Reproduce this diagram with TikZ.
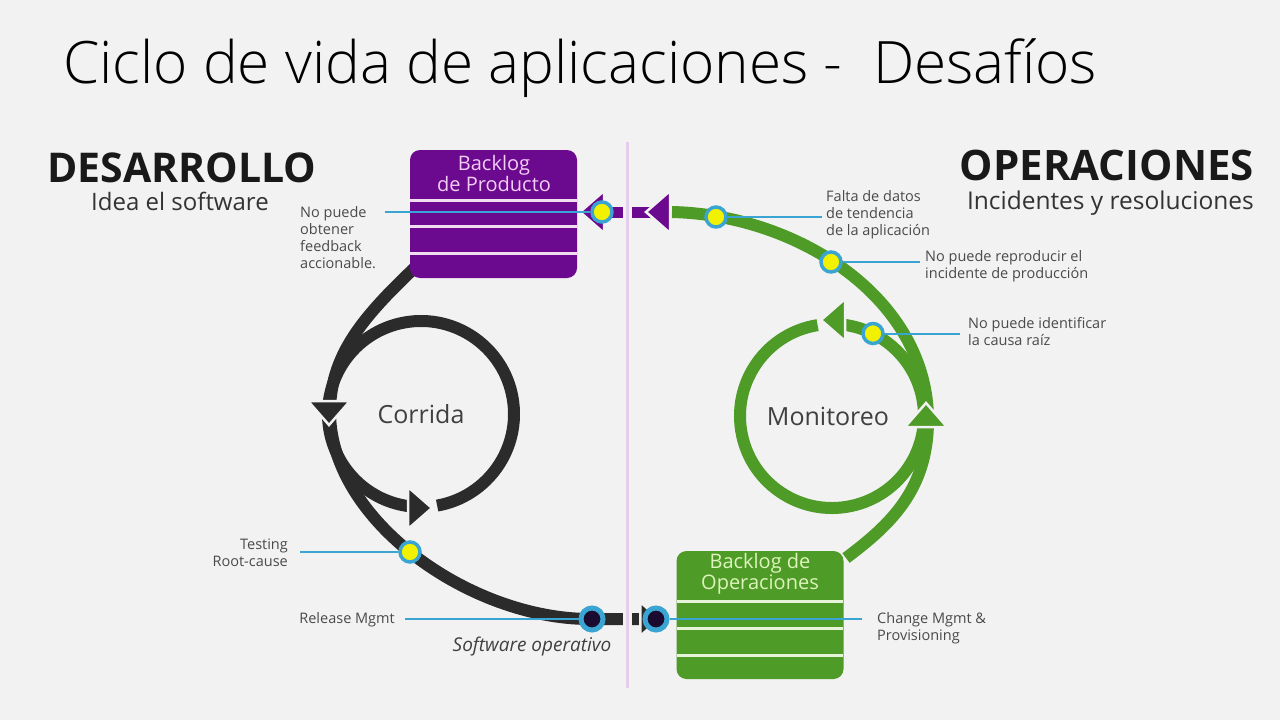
\documentclass[tikz,border=0pt]{standalone}
\usepackage{fontspec}
\setmainfont{Open Sans}
\newfontfamily\titlefont{Open Sans Light}
\usetikzlibrary{calc}
\definecolor{bgc}{HTML}{F2F2F2}
\definecolor{blk}{HTML}{2B2B2B}
\definecolor{grn}{HTML}{4E9B27}
\definecolor{pur}{HTML}{6B0A8E}
\definecolor{lav}{HTML}{E3CDEB}
\definecolor{blu}{HTML}{3AA4D2}
\definecolor{yel}{HTML}{F2F200}
\definecolor{darkc}{HTML}{1C0B30}
\definecolor{txtc}{HTML}{4A4A4A}
\definecolor{pursep}{HTML}{F0DDF2}
\definecolor{grnsep}{HTML}{E8F4DA}
\definecolor{purtxt}{HTML}{F2CDF6}
\definecolor{grntxt}{HTML}{DDF4BC}
\tikzset{
  flow/.style={line width=12pt},
  arrowtri/.pic={\path[pic actions, draw=bgc, line width=2.5pt] (-12,-21) -- (12,0) -- (-12,21) -- cycle;},
  ycirc/.style={circle, fill=yel, draw=blu, line width=3.5pt, minimum size=20pt, inner sep=0pt},
  dcirc/.style={circle, fill=darkc, draw=blu, line width=5pt, minimum size=22pt, inner sep=0pt},
  bline/.style={draw=blu, line width=2pt},
  small/.style={font=\fontsize{14.5}{17}\selectfont, text=txtc, inner sep=0pt, align=left},
  boxnode/.style={rounded corners=10pt, minimum width=167pt, minimum height=128pt, inner sep=0pt},
  boxtxt/.style={font=\fontsize{20}{21}\selectfont, align=center, inner sep=0pt},
  sepline/.style={line width=3pt},
  looplabel/.style={font=\fontsize{25}{28}\selectfont, text=blk!90, inner sep=0pt}
}
\begin{document}
\begin{tikzpicture}[x=1pt,y=-1pt]
\fill[bgc] (0,0) rectangle (1280,720);
\useasboundingbox (0,0) rectangle (1280,720);

% title and headers
\node[anchor=base west, inner sep=0pt, font=\titlefont\fontsize{58.5}{62}\selectfont, text=black] (title) at (63,83) {Ciclo de vida de aplicaciones -\ \ Desafíos};
\node[anchor=base west, inner sep=0pt, font=\fontsize{41}{44}\bfseries\selectfont, text=black!90] (dev) at (47,182) {DESARROLLO};
\node[anchor=base, inner sep=0pt, font=\fontsize{24}{26}\selectfont, text=black!80] (devs) at (180,210) {Idea el software};
\node[anchor=base east, inner sep=0pt, font=\fontsize{42}{44}\bfseries\selectfont, text=black!90] (ops) at (1254,180) {OPERACIONES};
\node[anchor=base east, inner sep=0pt, font=\fontsize{24.5}{26}\selectfont, text=black!80] (opss) at (1254,209) {Incidentes y resoluciones};

% centers
\coordinate (cc) at (421,414);
\coordinate (mc) at (832,416);

% black flow
\draw[flow, blk] (425,258) .. controls (370,310) and (330,350) .. (330,412) .. controls (330,520) and (470,619) .. (590,619) -- (655,619);
\draw[flow, blk] ($(cc)+(80:93)$) arc[start angle=80, end angle=-263, radius=93];

% green flow
\draw[flow, grn] (672,212) .. controls (800,215) and (928,300) .. (928,420) .. controls (928,490) and (890,525) .. (846,558);
\draw[flow, grn] ($(mc)+(-99:92)$) arc[start angle=-99, end angle=-443, radius=92];

% purple link
\draw[line width=11pt, pur] (668,212) -- (585,212);

% divider
\draw[bgc, line width=9pt] (627,142) -- (627,688);
\draw[lav, line width=3pt] (627,142) -- (627,688);

% boxes
\node[boxnode, fill=pur] (pb) at (493.5,214) {};
\draw[sepline, pursep] (410,200.5) -- (577,200.5) (410,226) -- (577,226) (410,253) -- (577,253);
\node[boxtxt, text=purtxt] (pbt) at (494,173) {Backlog\\de Producto};

\node[boxnode, fill=grn] (ob) at (760,615) {};
\draw[sepline, grnsep] (677,601.5) -- (843,601.5) (677,628) -- (843,628) (677,655) -- (843,655);
\node[boxtxt, text=grntxt] (obt) at (760,574) {Backlog de\\Operaciones};

% arrowheads
\pic[fill=blk, rotate=-90] at (329,413) {arrowtri};
\pic[fill=blk] at (420,508) {arrowtri};
\pic[fill=grn, rotate=180] at (833,320) {arrowtri};
\pic[fill=grn, rotate=90] at (926,415) {arrowtri};
\pic[fill=pur, rotate=180] at (658,212) {arrowtri};
\pic[fill=pur, rotate=180] at (592,212) {arrowtri};
\pic[fill=blk, scale=0.8] at (650,619) {arrowtri};

% labels
\node[small, anchor=west] (pfl) at (300,238) {No puede\\obtener\\feedback\\accionable.};
\node[small, anchor=west] (ftl) at (826,215) {Falta de datos\\de tendencia\\de la aplicación};
\node[small, anchor=west] (rpl) at (925,266) {No puede reproducir el\\incidente de producción};
\node[small, anchor=west] (icl) at (968,332) {No puede identificar\\la causa raíz};
\node[small, anchor=east, align=right] (tsl) at (288,553) {Testing\\Root-cause};
\node[small, anchor=east] (rml) at (395,620) {Release Mgmt};
\node[small, anchor=west] (cml) at (877,628) {Change Mgmt \&\\Provisioning};
\node[inner sep=0pt, font=\fontsize{19}{20}\itshape\selectfont, text=blk!90] (swo) at (532,647) {Software operativo};
\node[looplabel] (corr) at (421,414) {Corrida};
\node[looplabel] (mon) at (828,416) {Monitoreo};

% marker circles
\node[ycirc] (pfc) at (602,212) {};
\node[ycirc] (ftc) at (716,217) {};
\node[ycirc] (rpc) at (831,262) {};
\node[ycirc] (icc) at (873,333.5) {};
\node[ycirc] (tsc) at (410,552) {};
\node[dcirc] (rmc) at (592,619) {};
\node[dcirc] (cmc) at (656,619) {};

% blue connectors
\coordinate (pfe) at (385,212);
\draw[bline] (pfc.west) -- (pfe);
\draw[bline] (ftc.east) -- ($(ftc.east -| ftl.west)+(-4,0)$);
\draw[bline] (rpc.east) -- ($(rpc.east -| rpl.west)+(-5,0)$);
\draw[bline] (icc.east) -- ($(icc.east -| icl.west)+(-8,0)$);
\draw[bline] (tsc.west) -- ($(tsc.west -| tsl.east)+(12,0)$);
\draw[bline] (rmc.west) -- ($(rmc.west -| rml.east)+(10,0)$);
\draw[bline] (cmc.east) -- ($(cmc.east -| cml.west)+(-15,0)$);
\end{tikzpicture}
\end{document}
